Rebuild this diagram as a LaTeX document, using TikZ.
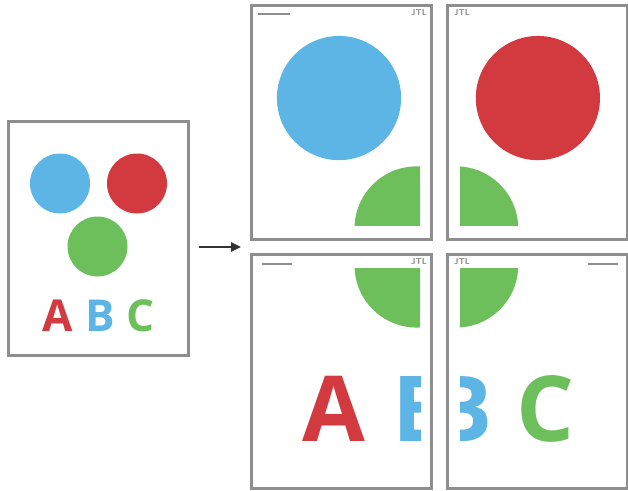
\documentclass[tikz,border=0pt]{standalone}
\usepackage{fontspec}
\newfontfamily\abcfont{Open Sans}
\usetikzlibrary{arrows.meta, positioning}

\definecolor{dotblue}{HTML}{5DB5E6}
\definecolor{dotred}{HTML}{D23A40}
\definecolor{dotgreen}{HTML}{6DBF5C}
\definecolor{framegray}{HTML}{8E8E8E}

% the artwork, in the coordinates of the small sheet
\newcommand{\abcsheet}[1]{%
    \fill[dotblue] (60,183.5) circle[radius=30];
    \fill[dotred] (137,183.5) circle[radius=30];
    \fill[dotgreen] (97.5,246.5) circle[radius=30];
    \node[letter, text=dotred] (#1a) at (57.5,316) {A};
    \node[letter, text=dotblue] (#1b) at (100.5,316) {B};
    \node[letter, text=dotgreen] (#1c) at (140.5,316) {C};
}

\begin{document}
\begin{tikzpicture}[x=0.75pt, y=-0.75pt,
    page/.style={rectangle, draw=framegray, line width=2.25pt, minimum width=135pt, minimum height=175.5pt, inner sep=0},
    letter/.style={inner sep=0, font=\abcfont\bfseries\fontsize{33}{33}\selectfont},
    tiletag/.style={inner sep=0, text=framegray, font=\sffamily\bfseries\fontsize{6.5}{6.5}\selectfont},
    tiledash/.style={framegray, line width=0.9pt},
    arrow/.style={-{Triangle[length=7.5pt, width=7pt]}, line width=1.6pt, black!80}]
    \useasboundingbox (0,0) rectangle (628,490);

    % Original sheet
    \node[page] (original) at (98.5,238.5) {};
    \abcsheet{s}

    % Tiles
    \node[page] (tileTL) at (341.5,122) {};
    \node[page] (tileTR) at (537.5,122) {};
    \node[page] (tileBL) at (341.5,371.5) {};
    \node[page] (tileBR) at (537.5,371.5) {};

    \begin{scope}
        \clip (254,8) rectangle (420,225);
        \begin{scope}[shift={(214.8,-281.8)}, scale=2.07, transform shape]
            \abcsheet{tl}
        \end{scope}
    \end{scope}
    \begin{scope}
        \clip (460,8) rectangle (625,225);
        \begin{scope}[shift={(254.3,-281.8)}, scale=2.07, transform shape]
            \abcsheet{tr}
        \end{scope}
    \end{scope}
    \begin{scope}
        \clip (254,268) rectangle (420,486);
        \begin{scope}[shift={(214.8,-244.8)}, scale=2.07, transform shape]
            \abcsheet{bl}
        \end{scope}
    \end{scope}
    \begin{scope}
        \clip (460,268) rectangle (625,486);
        \begin{scope}[shift={(254.3,-244.8)}, scale=2.07, transform shape]
            \abcsheet{br}
        \end{scope}
    \end{scope}

    % Tile marks
    \node[tiletag] (tagTL) at (419,13) {JTL};
    \node[tiletag] (tagTR) at (462,13) {JTL};
    \node[tiletag] (tagBL) at (419,262) {JTL};
    \node[tiletag] (tagBR) at (462,262) {JTL};
    \draw[tiledash] (258,14) -- (290,14);
    \draw[tiledash] (262,264) -- (292,264);
    \draw[tiledash] (588,264) -- (618,264);

    % Arrow
    \coordinate (tilesin) at (250,247);
    \draw[arrow, shorten <=6.75pt, shorten >=6.75pt] (original.east |- tilesin) -- (tilesin);

\end{tikzpicture}
\end{document}
